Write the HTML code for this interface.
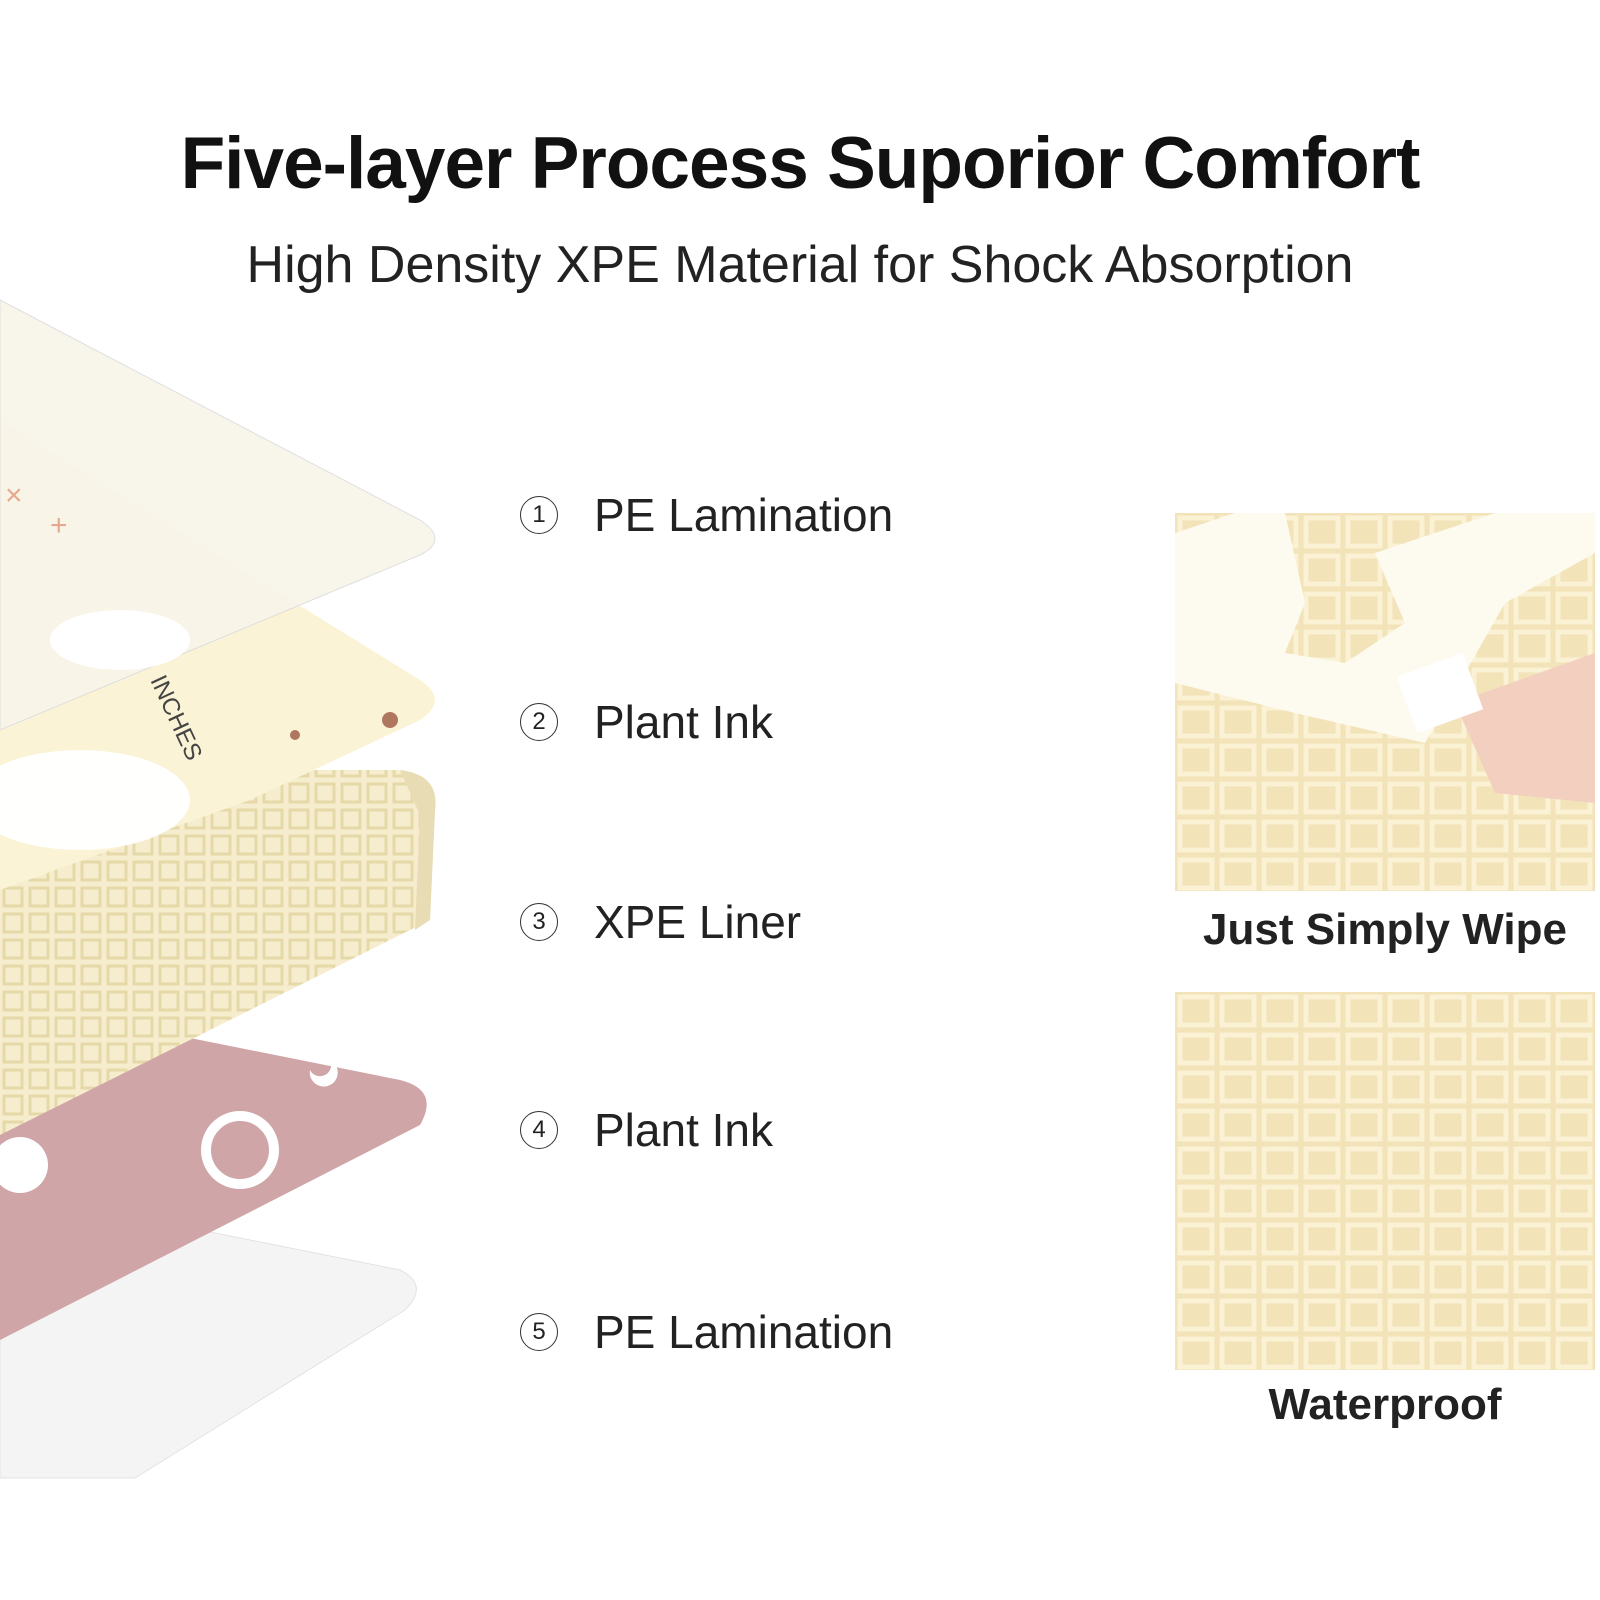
<!DOCTYPE html>
<html><head><meta charset="utf-8"><style>
body{margin:0;width:1600px;height:1600px;background:#fff;overflow:hidden;position:relative;font-family:"Liberation Sans",sans-serif;}
.t{position:absolute;left:0;width:1600px;text-align:center;color:#111;}
.lab{position:absolute;left:520px;font-size:46px;color:#222;display:flex;align-items:center;}
.lab span.c{display:inline-block;width:36px;height:36px;border:1.5px solid #333;border-radius:50%;font-size:24px;line-height:36px;text-align:center;margin-right:36px;}
.cap{position:absolute;left:1175px;width:420px;text-align:center;font-size:44px;font-weight:bold;color:#222;}
</style></head><body>
<div class="t" style="top:122px;font-size:73px;font-weight:bold;letter-spacing:-1px;">Five-layer Process Suporior Comfort</div>
<div class="t" style="top:235px;font-size:52px;color:#222;">High Density XPE Material for Shock Absorption</div>

<svg width="1600" height="1600" style="position:absolute;left:0;top:0">
<defs>
<pattern id="g" width="26" height="26" patternUnits="userSpaceOnUse"><rect width="26" height="26" fill="#f6edcf"/><rect x="4" y="4" width="18" height="18" fill="none" stroke="#e6d9a8" stroke-width="3"/></pattern>
</defs>
<path d="M0 1190 L400 1270 Q430 1285 405 1310 L135 1478 L0 1478 Z" fill="#f4f4f4" stroke="#e3e3e3"/>
<path d="M0 1000 L400 1080 Q440 1090 420 1125 L0 1340 Z" fill="#cfa5a7"/>
<circle cx="240" cy="1150" r="34" fill="none" stroke="#fff" stroke-width="10"/>
<circle cx="20" cy="1165" r="28" fill="#fff"/>
<path d="M310 1070 a14 14 0 1 0 20 -10 a10 10 0 1 1 -20 10z" fill="#fff"/>
<path d="M0 770 L400 770 Q440 775 435 810 L430 920 L0 1135 Z" fill="url(#g)"/>
<path d="M400 770 Q440 775 435 810 L430 920 L415 930 L420 815 Z" fill="#e7dcb4"/>
<path d="M0 420 L420 680 Q450 700 420 720 L250 800 L0 890 Z" fill="#fbf3d6"/>
<ellipse cx="80" cy="800" rx="110" ry="50" fill="#fff" opacity=".95"/>
<circle cx="390" cy="720" r="8" fill="#b07760"/><circle cx="295" cy="735" r="5" fill="#b07760"/>
<text x="150" y="680" font-size="24" fill="#444" transform="rotate(65 150 680)" font-family="Liberation Sans">INCHES</text>
<path d="M0 300 L420 520 Q450 540 420 555 L0 730 Z" fill="#f8f5ea" opacity=".92" stroke="#ddd"/>
<ellipse cx="120" cy="640" rx="70" ry="30" fill="#fff"/>
<text x="5" y="505" font-size="30" fill="#e6a98f">× </text>
<text x="50" y="535" font-size="30" fill="#e6a98f">+</text>
</svg>

<div class="lab" style="top:488px;"><span class="c">1</span>PE Lamination</div>
<div class="lab" style="top:695px;"><span class="c">2</span>Plant Ink</div>
<div class="lab" style="top:895px;"><span class="c">3</span>XPE Liner</div>
<div class="lab" style="top:1103px;"><span class="c">4</span>Plant Ink</div>
<div class="lab" style="top:1305px;"><span class="c">5</span>PE Lamination</div>

<svg width="420" height="378" style="position:absolute;left:1175px;top:513px">
<defs><pattern id="g2" width="42" height="38" patternUnits="userSpaceOnUse"><rect width="42" height="38" fill="#f2e3b8"/><rect x="5" y="5" width="32" height="28" fill="none" stroke="#fbf1d5" stroke-width="5"/></pattern></defs>
<rect width="420" height="378" fill="url(#g2)"/>
<path d="M0 20 L60 0 L110 0 L130 90 L110 140 L170 150 L230 110 L200 40 L260 20 L320 0 L420 0 L420 40 L330 90 L250 230 L120 200 L0 170Z" fill="#fdfaf0"/>
<path d="M280 190 L420 140 L420 290 L320 280 Z" fill="#f3cfc0"/>
<rect x="230" y="150" width="70" height="60" fill="#fff" transform="rotate(-20 265 180)"/>
</svg>
<div class="cap" style="top:905px;">Just Simply Wipe</div>
<svg width="420" height="378" style="position:absolute;left:1175px;top:992px"><rect width="420" height="378" fill="url(#g2)"/></svg>
<div class="cap" style="top:1380px;">Waterproof</div>
</body></html>
